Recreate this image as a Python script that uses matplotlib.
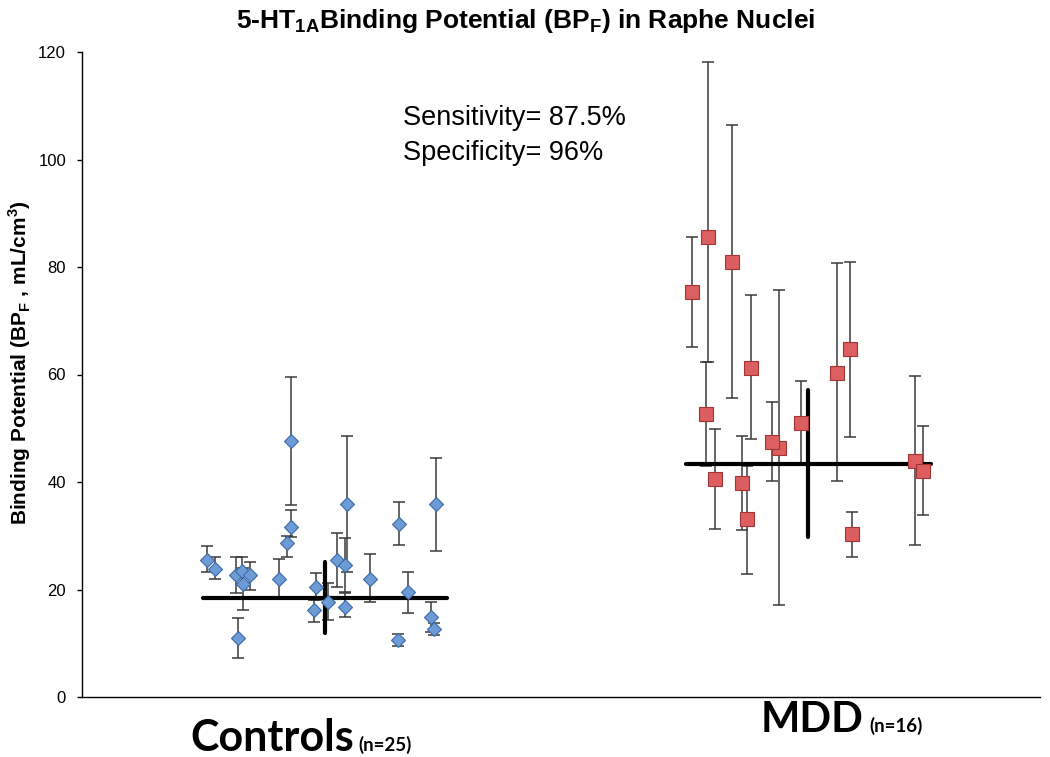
import matplotlib
matplotlib.use("Agg")
import matplotlib.pyplot as plt
import numpy as np

plt.rcParams['font.family'] = ['Liberation Sans', 'DejaVu Sans']
plt.rcParams['mathtext.fontset'] = 'custom'
plt.rcParams['mathtext.rm'] = 'Liberation Sans'
plt.rcParams['mathtext.bf'] = 'Liberation Sans:bold'

# ---------------- data ----------------
ctrl_x = [13.0, 13.9, 16.3, 16.1, 16.7, 16.8, 17.5, 20.6, 21.8, 21.8, 21.4, 24.4, 24.2,
          25.7, 26.6, 27.5, 27.7, 27.5, 30.1, 33.1, 34.0, 33.0, 36.4, 36.7, 37.0]
ctrl_y = [25.5, 23.9, 10.9, 22.7, 23.4, 21.0, 22.7, 21.9, 47.6, 31.7, 28.7, 20.4, 16.1,
          17.6, 25.5, 24.6, 35.9, 16.8, 22.0, 32.1, 19.5, 10.6, 14.9, 12.7, 35.9]
ctrl_hi = [28.1, 26.0, 14.7, 26.0, 26.0, 24.0, 25.1, 25.7, 59.5, 34.8, 30.0, 23.0, 18.0,
           21.2, 30.5, 29.6, 48.6, 19.3, 26.6, 36.2, 23.3, 11.8, 17.7, 13.8, 44.5]
ctrl_lo = [23.2, 21.9, 7.3, 19.3, 21.0, 16.1, 19.9, 18.4, 35.7, 29.8, 26.0, 18.0, 14.0,
           14.3, 20.4, 19.6, 23.3, 14.9, 17.6, 28.2, 15.7, 9.5, 12.1, 11.5, 27.2]

mdd_x = [63.7, 65.3, 65.1, 67.8, 69.8, 72.8, 78.8, 80.2, 66.1, 68.9, 69.4, 72.0, 75.1,
         80.4, 86.9, 87.8]
mdd_y = [75.3, 85.5, 52.6, 81.0, 61.3, 46.4, 60.3, 64.7, 40.5, 39.8, 33.1, 47.5, 51.0,
         30.3, 43.9, 42.1]
mdd_hi = [85.6, 118.2, 62.3, 106.5, 74.7, 75.7, 80.7, 80.9, 49.8, 48.6, 43.0, 54.8, 58.8,
          34.5, 59.7, 50.5]
mdd_lo = [65.1, 62.3, 43.0, 55.6, 48.0, 17.1, 40.1, 48.4, 31.2, 31.1, 22.9, 40.2, 43.2,
          26.1, 28.3, 33.8]

# group summary lines: horizontal (value, x-from, x-to), vertical (x, low, high)
ctrl_center = 18.5
ctrl_hspan = [12.6, 38.1]
ctrl_vx = 25.4
ctrl_vspan = [12.0, 25.1]
mdd_center = 43.4
mdd_hspan = [63.1, 88.6]
mdd_vx = 75.8
mdd_vspan = [29.7, 57.1]

yticks = [0, 20, 40, 60, 80, 100, 120]
title = r"5-HT$_{\mathbf{1A}}$Binding Potential (BP$_{\mathbf{F}}$) in Raphe Nuclei"
ylabel = r"Binding Potential (BP$_{\mathbf{F}}$ , mL/cm$^{\mathbf{3}}$)"
annot = ["Sensitivity= 87.5%", "Specificity= 96%"]

# ---------------- figure ----------------
W, H = 1050, 757
fig = plt.figure(figsize=(W / 100, H / 100), dpi=100)
ax = fig.add_axes([82 / W, 60 / H, 958 / W, 645 / H])

def fpos(x, y):
    return x / W, 1 - y / H

err_col = '#3a3a3a'
cy = np.array(ctrl_y)
ax.errorbar(ctrl_x, cy, yerr=[cy - np.array(ctrl_lo), np.array(ctrl_hi) - cy],
            fmt='none', ecolor=err_col, elinewidth=1.1, capsize=4, capthick=1.1, zorder=2)
my = np.array(mdd_y)
ax.errorbar(mdd_x, my, yerr=[my - np.array(mdd_lo), np.array(mdd_hi) - my],
            fmt='none', ecolor=err_col, elinewidth=1.1, capsize=4, capthick=1.1, zorder=2)

for hs, c in [(ctrl_hspan, ctrl_center), (mdd_hspan, mdd_center)]:
    ax.plot(hs, [c, c], color='black', lw=3, zorder=3, solid_capstyle='round')
for vx, vs in [(ctrl_vx, ctrl_vspan), (mdd_vx, mdd_vspan)]:
    ax.plot([vx, vx], vs, color='black', lw=3, zorder=3, solid_capstyle='round')

ax.plot(ctrl_x, ctrl_y, 'D', ms=7.5, mfc='#6c9bd6', mec='#3f6aa8', mew=0.8, zorder=4)
ax.plot(mdd_x, mdd_y, 's', ms=10.5, mfc='#dc5e60', mec='#a23434', mew=0.8, zorder=4)

ax.set_xlim(0, 100)
ax.set_ylim(0, 120)
ax.set_yticks(yticks)
ax.set_xticks([])
ax.tick_params(axis='y', direction='out', length=3.5, width=1, labelsize=12,
               pad=8, colors='black')
for s in ['top', 'right']:
    ax.spines[s].set_visible(False)
for s in ['left', 'bottom']:
    ax.spines[s].set_linewidth(1)
    ax.spines[s].set_color('black')

# annotation
ax.text(33.5, 106.4, annot[0], fontsize=19.5, va='baseline', ha='left')
ax.text(33.5, 99.9, annot[1], fontsize=19.5, va='baseline', ha='left')

# title and y label
fig.text(*fpos(526, 28), title, fontsize=19, fontweight='bold', ha='center', va='baseline')
fig.text(*fpos(20, 363), ylabel, fontsize=15, fontweight='bold', rotation=90,
         ha='center', va='center')

# group labels
big = ['Lato', 'Liberation Sans']
fig.text(*fpos(354, 751), "Controls", fontsize=31, fontweight='bold', family=big,
         ha='right', va='baseline')
fig.text(*fpos(358, 751), "(n=25)", fontsize=13.5, fontweight='bold', family=big,
         ha='left', va='baseline')
fig.text(*fpos(863, 732), "MDD", fontsize=30, fontweight='bold', family=big,
         ha='right', va='baseline')
fig.text(*fpos(869, 732), "(n=16)", fontsize=13.5, fontweight='bold', family=big,
         ha='left', va='baseline')

fig.savefig('out.png', dpi=100)
